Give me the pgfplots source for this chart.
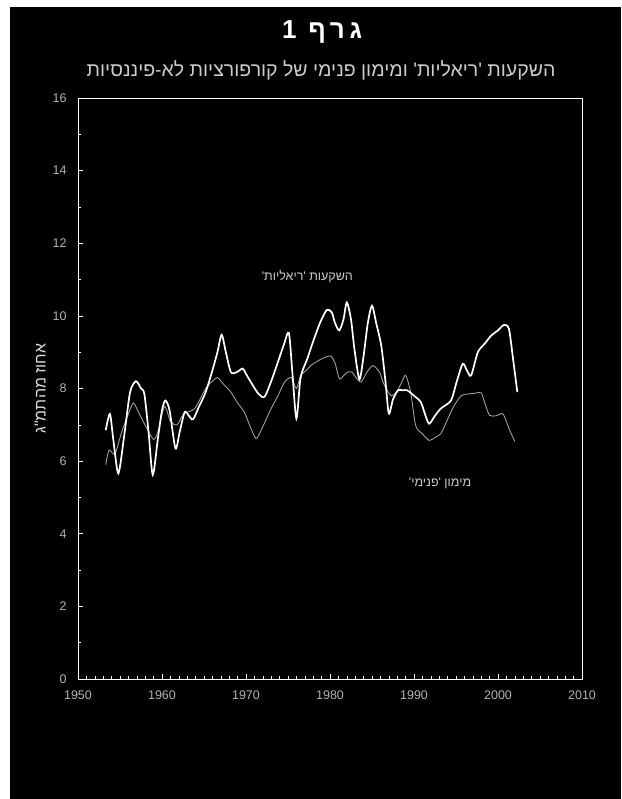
\documentclass[border=0pt]{standalone}
\usepackage{fontspec}
\setmainfont{Liberation Sans}
\newfontfamily\heb[Script=Hebrew]{Liberation Sans}
\usepackage{pgfplots}
\pgfplotsset{compat=1.18}
\TeXXeTstate=1
\begin{document}
\begin{tikzpicture}
\path[use as bounding box] (0pt,0pt) rectangle (621pt,799pt);
\fill[white] (0pt,0pt) rectangle (621pt,799pt);
\fill[black] (10pt,0pt) rectangle (621pt,792pt);
\node[text=white,font=\heb\bfseries\fontsize{26}{29}\selectfont] at (322pt,767pt) {\addfontfeature{LetterSpace=18}\beginR גרף 1\endR};
\node[text=white!80!black,font=\heb\fontsize{19.5}{22}\selectfont] at (321pt,729pt) {\beginR השקעות 'ריאליות' ומימון פנימי של קורפורציות לא-פיננסיות\endR};
\begin{axis}[
  at={(78pt,120pt)}, anchor=south west,
  scale only axis, width=504pt, height=581pt,
  xmin=1950, xmax=2010, ymin=0, ymax=16,
  xtick={1950,1960,...,2010}, ytick={0,2,...,16},
  xtick pos=bottom, ytick pos=left,
  minor x tick num=9, minor y tick num=1,
  major tick length=5pt, minor tick length=3pt,
  tick style={white, line width=0.5pt},
  axis line style={white, line width=0.6pt},
  /pgf/number format/assume math mode=true,
  /pgf/number format/set thousands separator={},
  tick label style={text=white!70!black, font=\fontsize{12.5}{14}\selectfont},
  xticklabel style={yshift=-8pt},
  yticklabel style={xshift=-8pt},
  ylabel={\heb\beginR אחוז מהתמ"ג\endR},
  every axis y label/.style={at={(axis description cs:-0.075,0.5)}, rotate=90, anchor=center, text=white!85!black, font=\fontsize{16}{18}\selectfont},
  clip=false,
]
\addplot[white!62!black, line width=0.9pt, smooth, tension=0.45] coordinates {
(1953.3,5.9) (1953.7,6.3) (1954.4,6.2) (1955.2,6.8) (1956.0,7.3) (1956.6,7.6)
(1957.3,7.3) (1958.2,6.9) (1959.0,6.6) (1959.5,6.8) (1960.3,7.5) (1961.0,7.1)
(1961.8,7.0) (1962.6,7.3) (1963.9,7.45) (1965.2,8.0) (1966.0,8.2) (1966.6,8.3)
(1967.4,8.1) (1968.2,7.9) (1969.0,7.6) (1969.8,7.35) (1970.5,6.95) (1971.2,6.62)
(1971.8,6.85) (1972.4,7.15) (1973.0,7.45) (1973.8,7.8) (1974.6,8.18) (1975.4,8.3)
(1976.0,8.0) (1976.5,8.36) (1977.2,8.5) (1977.7,8.63) (1978.5,8.75) (1979.3,8.85)
(1980.1,8.89) (1980.6,8.7) (1981.1,8.27) (1981.6,8.35) (1982.1,8.45) (1982.6,8.45)
(1983.1,8.3) (1983.7,8.18) (1984.4,8.45) (1985.1,8.63) (1985.9,8.45) (1986.3,8.18)
(1986.8,7.95) (1987.3,7.8) (1987.9,7.9) (1988.5,8.15) (1989.0,8.36) (1989.6,7.9)
(1990.2,6.98) (1991.0,6.75) (1991.8,6.57) (1992.5,6.65) (1993.2,6.76) (1993.9,7.1)
(1994.6,7.45) (1995.6,7.8) (1996.5,7.85) (1997.3,7.87) (1998.0,7.88) (1998.5,7.55)
(1999.0,7.26) (1999.8,7.25) (2000.6,7.3) (2001.3,6.9) (2002.0,6.54)
};
\addplot[white, line width=1.7pt, smooth, tension=0.45] coordinates {
(1953.3,6.85) (1953.8,7.3) (1954.2,6.6) (1954.8,5.66) (1955.5,6.7) (1956.2,7.9)
(1956.9,8.2) (1957.5,8.0) (1957.9,7.85) (1958.4,6.8) (1958.9,5.62) (1959.5,6.6)
(1960.0,7.4) (1960.4,7.67) (1960.9,7.4) (1961.6,6.35) (1962.1,6.8) (1962.7,7.35)
(1963.2,7.25) (1963.7,7.15) (1964.4,7.5) (1965.2,7.9) (1966.0,8.5) (1966.6,9.0)
(1967.1,9.48) (1967.6,9.0) (1968.2,8.45) (1968.9,8.45) (1969.6,8.55) (1970.0,8.4)
(1970.8,8.09) (1971.5,7.85) (1972.2,7.77) (1973.0,8.2) (1973.8,8.73) (1974.5,9.2)
(1975.1,9.53) (1975.5,8.5) (1976.0,7.17) (1976.5,8.3) (1977.3,8.82) (1978.0,9.3)
(1978.8,9.8) (1979.6,10.16) (1980.2,10.1) (1980.6,9.8) (1981.1,9.6) (1981.6,9.9)
(1982.0,10.37) (1982.5,9.9) (1982.9,9.1) (1983.5,8.25) (1984.0,8.9) (1984.5,9.8)
(1985.0,10.28) (1985.5,9.8) (1986.1,9.18) (1986.6,8.2) (1987.0,7.31) (1987.5,7.7)
(1988.1,7.95) (1988.7,7.95) (1989.2,7.95) (1990.0,7.8) (1990.8,7.63) (1991.3,7.3)
(1991.8,7.03) (1992.5,7.25) (1993.2,7.45) (1994.4,7.67) (1995.1,8.2) (1995.8,8.68)
(1996.3,8.5) (1996.8,8.36) (1997.6,9.0) (1998.4,9.23) (1999.2,9.46) (2000.0,9.6)
(2000.7,9.75) (2001.3,9.64) (2001.8,8.8) (2002.3,7.9)
};
\node[text=white!80!black, font=\heb\fontsize{12.5}{14}\selectfont] at (axis cs:1977.3,11.07) {\beginR השקעות 'ריאליות'\endR};
\node[text=white!80!black, font=\heb\fontsize{12.5}{14}\selectfont] at (axis cs:1993.1,5.4) {\beginR מימון 'פנימי'\endR};
\end{axis}
\end{tikzpicture}
\end{document}
